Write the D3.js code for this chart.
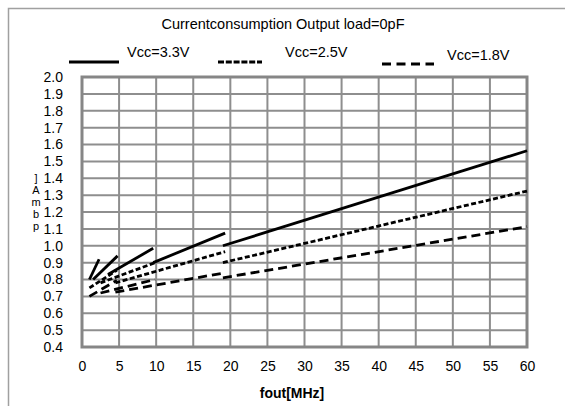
<!DOCTYPE html>
<html>
<head>
<meta charset="utf-8">
<script src="https://cdn.jsdelivr.net/npm/d3@7"></script>
<style>
  body { margin: 0; background: #fff; }
  text { font-family: "Liberation Sans", Arial, sans-serif; fill: #000; }
</style>
</head>
<body>
<div id="chart"></div>
<script>

// chart values
var title = "Currentconsumption Output load=0pF";
var xLabel = "fout[MHz]";
var yLabelGlyphs = ["]", "A", "m", "b", "p"];

var xTicks = [0, 5, 10, 15, 20, 25, 30, 35, 40, 45, 50, 55, 60];
var yTicks = [0.4, 0.5, 0.6, 0.7, 0.8, 0.9, 1.0, 1.1, 1.2, 1.3, 1.4, 1.5, 1.6, 1.7, 1.8, 1.9, 2.0];

var seriesNames = ["Vcc=3.3V", "Vcc=2.5V", "Vcc=1.8V"];

// each series is drawn as several separate pieces (divider ranges)
var vcc33 = [
  [[1, 0.80], [2.3, 0.92]],
  [[1.5, 0.80], [4.8, 0.94]],
  [[3.5, 0.83], [9.6, 0.985]],
  [[9.6, 0.90], [19.3, 1.075]],
  [[19, 1.00], [60, 1.563]]
];
var vcc25 = [
  [[1, 0.75], [4.7, 0.855]],
  [[2.5, 0.78], [9.85, 0.90]],
  [[4.5, 0.78], [19.3, 0.965]],
  [[19, 0.90], [60, 1.324]]
];
var vcc18 = [
  [[1, 0.70], [4.7, 0.795]],
  [[2.5, 0.72], [9.85, 0.80]],
  [[4.5, 0.725], [19.3, 0.84]],
  [[19, 0.81], [60, 1.113]]
];

var W = 565, H = 406;
var margin = {top: 77, right: 38, bottom: 59, left: 82},
    width = W - margin.left - margin.right,
    height = H - margin.top - margin.bottom;

var svg = d3.select("#chart").append("svg")
    .attr("width", W)
    .attr("height", H);

// outer frame (runs off the right and bottom edge)
svg.append("rect")
    .attr("x", 8.5).attr("y", 8.5)
    .attr("width", 600).attr("height", 450)
    .attr("fill", "none")
    .attr("stroke", "#a0a0a0")
    .attr("stroke-width", 1.5);

var x = d3.scaleLinear().domain([0, 60]).range([0, width]);
var y = d3.scaleLinear().domain([0.4, 2.0]).range([height, 0]);

var g = svg.append("g")
    .attr("transform", "translate(" + margin.left + "," + margin.top + ")");

// grid
g.append("g").selectAll("line").data(xTicks).enter()
    .append("line")
    .attr("x1", function(d) { return x(d); })
    .attr("x2", function(d) { return x(d); })
    .attr("y1", 0).attr("y2", height)
    .attr("stroke", "#8e8e8e")
    .attr("stroke-width", 2);

g.append("g").selectAll("line").data(yTicks).enter()
    .append("line")
    .attr("y1", function(d) { return y(d); })
    .attr("y2", function(d) { return y(d); })
    .attr("x1", 0).attr("x2", width)
    .attr("stroke", "#8e8e8e")
    .attr("stroke-width", 2);

g.append("rect")
    .attr("width", width).attr("height", height)
    .attr("fill", "none")
    .attr("stroke", "#868686")
    .attr("stroke-width", 3);

// axes: labels only, no domain / tick marks
var xAxis = g.append("g")
    .attr("transform", "translate(0," + height + ")")
    .call(d3.axisBottom(x).tickValues(xTicks).tickSize(0).tickPadding(14).tickFormat(d3.format("d")));
var yAxis = g.append("g")
    .call(d3.axisLeft(y).tickValues(yTicks).tickSize(0).tickPadding(19).tickFormat(d3.format(".1f")));
[xAxis, yAxis].forEach(function(a) {
  a.select(".domain").remove();
  a.selectAll("text")
    .style("font-family", "'Liberation Sans', Arial, sans-serif")
    .style("font-size", "14px")
    .attr("fill", "#000");
});

// series
var line = d3.line()
    .x(function(d) { return x(d[0]); })
    .y(function(d) { return y(d[1]); });

var styles = [
  {data: vcc33, dash: null},
  {data: vcc25, dash: "5,2.5"},
  {data: vcc18, dash: "9,5"}
];

styles.forEach(function(s) {
  g.append("g").selectAll("path").data(s.data).enter()
    .append("path")
    .attr("d", line)
    .attr("fill", "none")
    .attr("stroke", "#000")
    .attr("stroke-width", 2.8)
    .attr("stroke-dasharray", s.dash);
});

// title
svg.append("text")
    .attr("x", 283).attr("y", 29)
    .attr("text-anchor", "middle")
    .style("font-size", "14.5px")
    .text(title);

// legend
var legendItems = [
  {x1: 69, x2: 119, ly: 62, tx: 127, ty: 57, dash: null},
  {x1: 218, x2: 262, ly: 62, tx: 285, ty: 57, dash: "6,1.8"},
  {x1: 382, x2: 434, ly: 64, tx: 447, ty: 60, dash: "9,5.5"}
];
legendItems.forEach(function(l, i) {
  svg.append("line")
    .attr("x1", l.x1).attr("x2", l.x2)
    .attr("y1", l.ly).attr("y2", l.ly)
    .attr("stroke", "#000")
    .attr("stroke-width", 3.2)
    .attr("stroke-dasharray", l.dash);
  svg.append("text")
    .attr("x", l.tx).attr("y", l.ty)
    .style("font-size", "14.5px")
    .text(seriesNames[i]);
});

// x axis title
svg.append("text")
    .attr("x", 292).attr("y", 398)
    .attr("text-anchor", "middle")
    .style("font-size", "14px")
    .style("font-weight", "bold")
    .text(xLabel);

// y axis title: stacked glyphs as in the source
var glyphY = [182, 194, 206, 218, 230];
yLabelGlyphs.forEach(function(c, i) {
  svg.append("text")
    .attr("x", 36).attr("y", glyphY[i])
    .attr("text-anchor", "middle")
    .style("font-size", "11px")
    .text(c);
});

</script>
</body>
</html>
